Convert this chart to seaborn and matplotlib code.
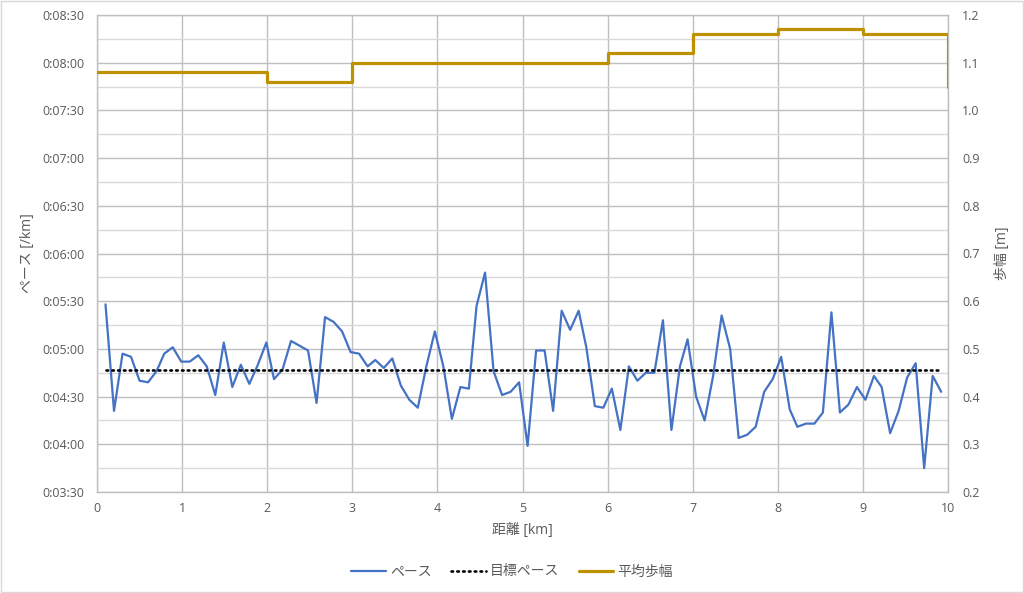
import matplotlib
matplotlib.use("Agg")
import matplotlib.pyplot as plt
import matplotlib.ticker as mticker
from matplotlib.patches import Rectangle
from matplotlib.lines import Line2D
import seaborn as sns
import pandas as pd

# ---- data ----
distance_km = [0.10, 0.20, 0.30, 0.40, 0.50, 0.60, 0.70, 0.79, 0.89, 0.99,
               1.09, 1.19, 1.29, 1.39, 1.49, 1.59, 1.69, 1.79, 1.89, 1.99,
               2.08, 2.18, 2.28, 2.38, 2.48, 2.58, 2.68, 2.78, 2.88, 2.98,
               3.08, 3.18, 3.27, 3.37, 3.47, 3.57, 3.67, 3.77, 3.87, 3.97,
               4.07, 4.17, 4.27, 4.37, 4.46, 4.56, 4.66, 4.76, 4.86, 4.96,
               5.06, 5.16, 5.26, 5.36, 5.46, 5.56, 5.66, 5.75, 5.85, 5.95,
               6.05, 6.15, 6.25, 6.35, 6.45, 6.55, 6.65, 6.75, 6.85, 6.94,
               7.04, 7.14, 7.24, 7.34, 7.44, 7.54, 7.64, 7.74, 7.84, 7.94,
               8.04, 8.14, 8.23, 8.33, 8.43, 8.53, 8.63, 8.73, 8.83, 8.93,
               9.03, 9.13, 9.22, 9.32, 9.42, 9.52, 9.62, 9.72, 9.82, 9.92]

pace_sec = [328, 261, 297, 295, 280, 279, 286, 297, 301, 292,
            292, 296, 289, 271, 304, 276, 290, 278, 290, 304,
            281, 287, 305, 302, 299, 266, 320, 317, 311, 298,
            297, 289, 293, 288, 294, 277, 268, 263, 289, 311,
            289, 256, 276, 275, 327, 348, 286, 271, 273, 279,
            239, 299, 299, 261, 324, 312, 324, 301, 264, 263,
            275, 249, 289, 280, 285, 285, 318, 249, 289, 306,
            270, 255, 283, 321, 300, 244, 246, 251, 273, 281,
            295, 262, 251, 253, 253, 260, 323, 260, 265, 276,
            268, 283, 276, 247, 261, 282, 291, 225, 283, 273]

target_pace_sec = [287] * len(distance_km)

stride_km = [0, 2, 3, 6, 7, 8, 9, 10]
stride_m = [1.08, 1.06, 1.10, 1.12, 1.16, 1.17, 1.16, 1.05]

labels = ["ペース", "目標ペース", "平均歩幅"]

# ---- style ----
sns.set_theme(style="white")
plt.rcParams["font.family"] = ["Open Sans", "Noto Sans CJK JP", "DejaVu Sans"]
text_color = "#595959"

fig = plt.figure(figsize=(10.24, 5.93), dpi=100)
ax = fig.add_axes([97 / 1024, 1 - 492 / 593, (948 - 97) / 1024, (492 - 15) / 593])

df_pace = pd.DataFrame({"d": distance_km, "p": pace_sec})
df_target = pd.DataFrame({"d": distance_km, "p": target_pace_sec})
df_stride = pd.DataFrame({"d": stride_km, "s": stride_m})

blue = "#4472C4"
gold = "#BF9000"
dot_style = (0, (0.6, 1.6))

sns.lineplot(data=df_pace, x="d", y="p", ax=ax, color=blue, linewidth=1.6,
             sort=False, zorder=3)
sns.lineplot(data=df_target, x="d", y="p", ax=ax, color="black", linewidth=1.9,
             linestyle=dot_style, dash_capstyle="round", sort=False, zorder=3)

ax.set_xlim(0, 10)
ax.set_ylim(210, 510)
ax.xaxis.set_major_locator(mticker.MultipleLocator(1))
ax.yaxis.set_major_locator(mticker.MultipleLocator(30))
ax.yaxis.set_minor_locator(mticker.MultipleLocator(15))


def fmt_time(v, pos):
    v = int(round(v))
    return f"0:{v // 60:02d}:{v % 60:02d}"


ax.yaxis.set_major_formatter(mticker.FuncFormatter(fmt_time))
ax.grid(which="major", axis="both", color="#bfbfbf", linewidth=1.0)
ax.grid(which="minor", axis="y", color="#d9d9d9", linewidth=1.0)
ax.set_axisbelow(True)
for s in ax.spines.values():
    s.set_color("#bfbfbf")
    s.set_linewidth(1.0)
ax.tick_params(axis="both", which="both", length=0, colors=text_color, labelsize=9)
ax.tick_params(axis="y", pad=9)
ax.tick_params(axis="x", pad=7)
ax.set_xlabel("距離 [km]", color=text_color, fontsize=10, labelpad=6)
ax.set_ylabel("ペース [/km]", color=text_color, fontsize=10, labelpad=5)

ax2 = ax.twinx()
sns.lineplot(data=df_stride, x="d", y="s", ax=ax2, color=gold, linewidth=2.3,
             drawstyle="steps-post", sort=False, zorder=3)
ax2.set_ylim(0.2, 1.2)
ax2.yaxis.set_major_locator(mticker.MultipleLocator(0.1))
ax2.yaxis.set_major_formatter(mticker.FormatStrFormatter("%.1f"))
ax2.grid(False)
for s in ax2.spines.values():
    s.set_visible(False)
ax2.tick_params(axis="y", length=0, colors=text_color, labelsize=9, pad=10)
ax2.set_ylabel("歩幅 [m]", color=text_color, fontsize=10, labelpad=11)
ax2.set_xlim(0, 10)

handles = [
    Line2D([], [], color=blue, linewidth=1.6),
    Line2D([], [], color="black", linewidth=1.9, linestyle=dot_style,
           dash_capstyle="round"),
    Line2D([], [], color=gold, linewidth=2.3),
]
fig.legend(handles, labels, loc="center", bbox_to_anchor=(0.5, 1 - 572 / 593),
           ncol=3, frameon=False, fontsize=10, handlelength=2.5,
           columnspacing=1.4, handletextpad=0.3, labelcolor=text_color)

fig.add_artist(Rectangle((0.001, 0.001), 0.998, 0.997, transform=fig.transFigure,
                         fill=False, edgecolor="#d9d9d9", linewidth=1.0))

fig.savefig("out.png", dpi=100, facecolor="white")
